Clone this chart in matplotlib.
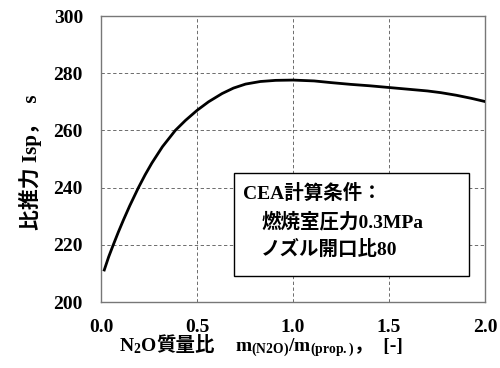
import matplotlib
matplotlib.use("Agg")
import matplotlib.pyplot as plt
from matplotlib.patches import Rectangle
from matplotlib.offsetbox import TextArea, HPacker, AnchoredOffsetbox

plt.rcParams['mathtext.fontset'] = 'custom'
plt.rcParams['mathtext.rm'] = 'Liberation Serif:bold'
plt.rcParams['mathtext.it'] = 'Liberation Serif:bold'
plt.rcParams['mathtext.bf'] = 'Liberation Serif:bold'
plt.rcParams['mathtext.default'] = 'rm'

FAM = ['Liberation Serif', 'Noto Sans CJK JP']

# N2O mass fraction vs Isp
mass_ratio = [0.017, 0.04, 0.064, 0.09, 0.117, 0.15, 0.195, 0.23, 0.265,
              0.32, 0.387, 0.44, 0.5, 0.56, 0.631, 0.69, 0.753, 0.83, 0.91,
              1.0, 1.11, 1.2, 1.3, 1.4, 1.5, 1.6, 1.7, 1.77, 1.85, 1.93, 2.0]
isp = [211.2, 215.8, 220.0, 224.4, 228.7, 233.7, 240.0, 244.5, 248.6,
       254.3, 260.0, 263.5, 267.0, 270.0, 272.9, 274.8, 276.2, 277.1, 277.5,
       277.6, 277.3, 276.7, 276.1, 275.6, 275.0, 274.4, 273.8, 273.2, 272.3,
       271.2, 270.1]

x_ticks = [0.0, 0.5, 1.0, 1.5, 2.0]
y_ticks = [200, 220, 240, 260, 280, 300]
x_ticklabels = ['0.0', '0.5', '1.0', '1.5', '2.0']
y_ticklabels = ['200', '220', '240', '260', '280', '300']

fig = plt.figure(figsize=(5.0, 3.68), dpi=100)
ax = fig.add_axes([0.202, 0.1793, 0.768, 0.7772])

ax.plot(mass_ratio, isp, color='black', lw=2.0, zorder=3,
        solid_joinstyle='round')

ax.set_xlim(0, 2.0)
ax.set_ylim(200, 300)
ax.set_xticks(x_ticks)
ax.set_yticks(y_ticks)
ax.set_xticklabels(x_ticklabels, family=FAM, fontsize=14, fontweight='bold')
ax.set_yticklabels(y_ticklabels, family=FAM, fontsize=14, fontweight='bold')
ax.tick_params(length=0)
ax.tick_params(axis='x', pad=12)
ax.tick_params(axis='y', pad=13)
ax.grid(True, ls=(0, (4, 3)), color='#555555', lw=0.6)
for s in ax.spines.values():
    s.set_color('#777777')
    s.set_linewidth(1.0)

# condition box
box = Rectangle((0.693, 209.1), 1.224, 35.9, facecolor='white',
                edgecolor='black', lw=1.0, zorder=4)
ax.add_patch(box)
ax.text(0.74, 238.1, 'CEA計算条件：', family=FAM, fontsize=14,
        fontweight='bold', va='center', ha='left', zorder=5)
ax.text(0.835, 228.3, '燃焼室圧力0.3MPa', family=FAM, fontsize=14,
        fontweight='bold', va='center', ha='left', zorder=5)
ax.text(0.835, 218.5, 'ノズル開口比80', family=FAM, fontsize=14,
        fontweight='bold', va='center', ha='left', zorder=5)

# y label
fig.text(0.06, 0.56, '比推力 Isp，  s', family=FAM, fontsize=15,
         fontweight='bold', rotation=90, ha='center', va='center')

# x label made of pieces (mixed fonts + subscripts)
p1 = TextArea('N$_2$O', textprops=dict(family='Liberation Serif',
                                        fontweight='bold', fontsize=14))
p2 = TextArea('質量比', textprops=dict(family=FAM, fontsize=14,
                                       fontweight='bold'))
p3 = TextArea('m$_{(N2O)}$/m$_{(prop.)}$', textprops=dict(
    family='Liberation Serif', fontweight='bold', fontsize=14))
p4 = TextArea('，  [-]', textprops=dict(family=FAM, fontsize=14,
                                         fontweight='bold'))
left = HPacker(children=[p1, p2], align='baseline', pad=0, sep=0)
right = HPacker(children=[p3, p4], align='baseline', pad=0, sep=0)
xl = AnchoredOffsetbox(loc='center',
                       child=HPacker(children=[left, right], align='baseline',
                                     pad=0, sep=14),
                       pad=0, frameon=False, bbox_to_anchor=(0.522, 0.055),
                       bbox_transform=fig.transFigure, borderpad=0)
fig.add_artist(xl)

fig.savefig('out.png', dpi=100)
